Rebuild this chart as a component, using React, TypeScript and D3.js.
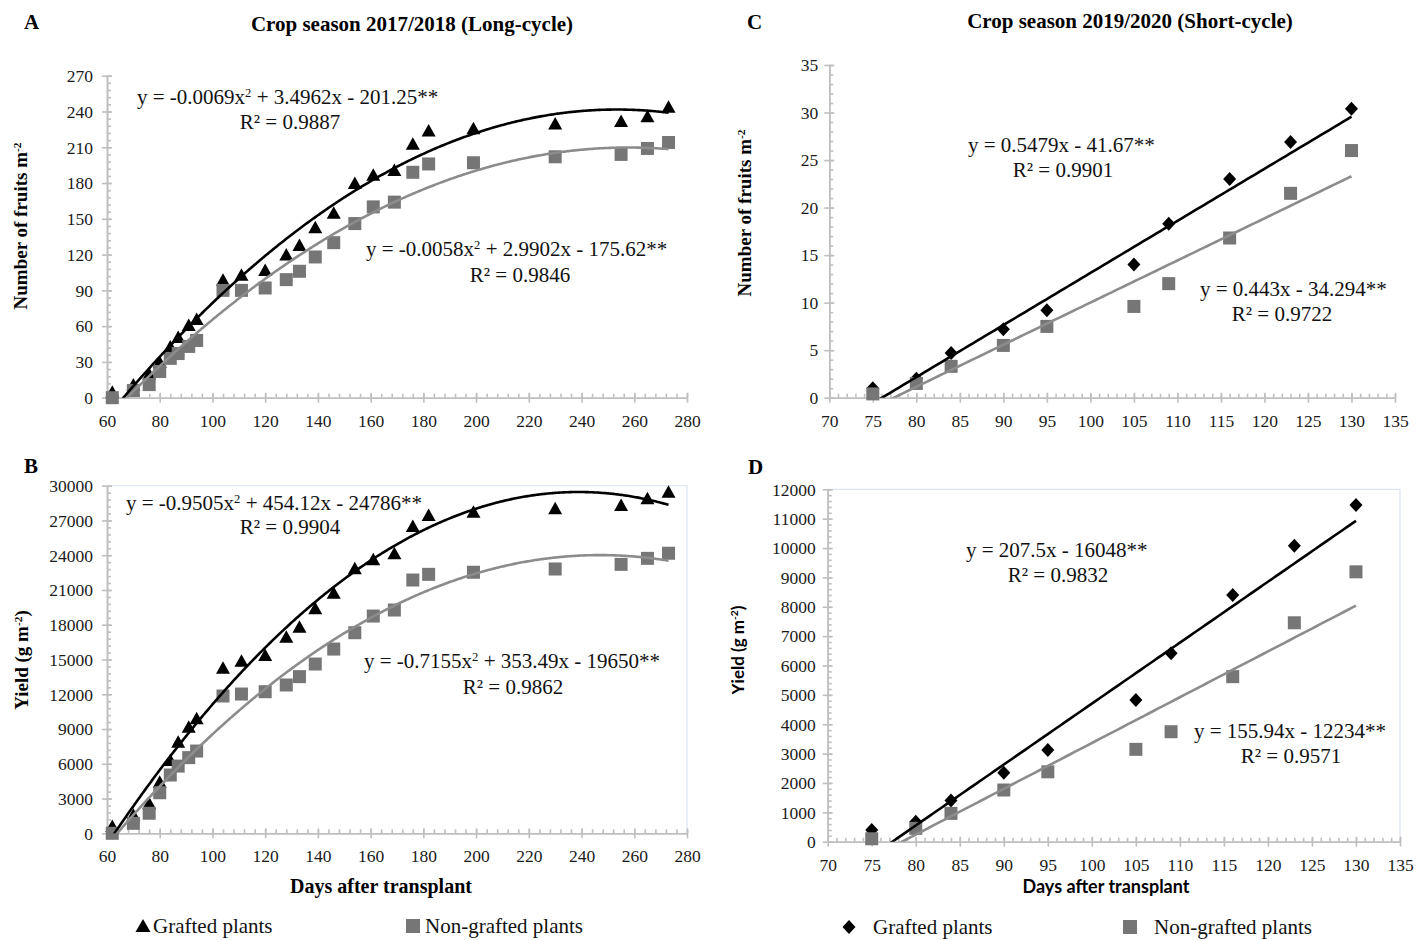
import React, { useEffect, useRef } from 'react'
import * as d3 from 'd3'

// long cycle (2017/2018)
const longDays = [62, 70, 76, 80, 84, 87, 91, 94, 104, 111, 120, 128, 133, 139, 146, 154, 161, 169, 176, 182, 199, 230, 255, 265, 273]
const fruitsGraftedLong = [5, 11, 20, 30, 43, 51, 61, 66, 99, 103, 107, 120, 128, 143, 155, 180, 187, 191, 213, 224, 226, 230, 232, 236, 244]
const fruitsNonGraftedLong = [0, 6, 11, 22, 33, 37, 43, 48, 90, 90, 92, 99, 106, 118, 130, 146, 160, 164, 189, 196, 197, 202, 204, 209, 214]
const yieldGraftedLong = [630, 1600, 2600, 4450, 6330, 7900, 9200, 9920, 14290, 14900, 15390, 16970, 17830, 19420, 20770, 22870, 23650, 24170, 26520, 27470, 27760, 28050, 28330, 28910, 29480]
const yieldNonGraftedLong = [0, 860, 1730, 3500, 5030, 5800, 6530, 7100, 11850, 12020, 12220, 12800, 13520, 14610, 15900, 17310, 18750, 19270, 21860, 22350, 22530, 22810, 23210, 23730, 24170]

// short cycle (2019/2020)
const shortDays = [75, 80, 84, 90, 95, 105, 109, 116, 123, 130]
const fruitsGraftedShort = [1.0, 2.0, 4.7, 7.2, 9.2, 14.0, 18.3, 23.0, 26.9, 30.4]
const fruitsNonGraftedShort = [0.4, 1.5, 3.3, 5.5, 7.5, 9.6, 12.0, 16.8, 21.5, 26.0]
const yieldGraftedShort = [400, 680, 1400, 2350, 3120, 4825, 6415, 8400, 10080, 11465]
const yieldNonGraftedShort = [100, 455, 965, 1760, 2380, 3145, 3745, 5620, 7455, 9190]

// trendline coefficients: y = a*x^2 + b*x + c
const trendA = [[-0.0069, 3.4962, -201.25], [-0.0058, 2.9902, -175.62]]
const trendB = [[-0.9505, 454.12, -24786], [-0.7155, 353.49, -19650]]
const trendC = [[0, 0.5479, -41.67], [0, 0.443, -34.294]]
const trendD = [[0, 207.5, -16048], [0, 155.94, -12234]]

const eqA = ['y = -0.0069x^2 + 3.4962x - 201.25**', 'R² = 0.9887', 'y = -0.0058x^2 + 2.9902x - 175.62**', 'R² = 0.9846']
const eqB = ['y = -0.9505x^2 + 454.12x - 24786**', 'R² = 0.9904', 'y = -0.7155x^2 + 353.49x - 19650**', 'R² = 0.9862']
const eqC = ['y = 0.5479x - 41.67**', 'R² = 0.9901', 'y = 0.443x - 34.294**', 'R² = 0.9722']
const eqD = ['y = 207.5x - 16048**', 'R² = 0.9832', 'y = 155.94x - 12234**', 'R² = 0.9571']

const titles = ['Crop season 2017/2018 (Long-cycle)', 'Crop season 2019/2020 (Short-cycle)']
const legendLabels = ['Grafted plants', 'Non-grafted plants']

const SERIF = '"Liberation Serif", "Times New Roman", serif'
const SANS = 'Lato, "Open Sans", sans-serif'
const GRAY_MARK = '#767676'
const GRAY_LINE = '#8c8c8c'
const AXIS = '#bfbfbf'

// writes "abc^2 def" with a raised 2
function richText(sel: any, s: string) {
  const parts = s.split(/\^(-?\d)/)
  parts.forEach((p, i) => {
    if (i % 2 === 1) {
      sel.append('tspan').attr('font-size', '0.6em').attr('dy', '-0.55em').text(p)
    } else if (p) {
      sel.append('tspan').attr('dy', i > 0 ? '0.33em' : null).text(p)
    }
  })
}

function drawPanel(svg: any, p: any) {
  const x = d3.scaleLinear().domain(p.xDomain).range(p.xRange)
  const y = d3.scaleLinear().domain(p.yDomain).range(p.yRange)
  const g = svg.append('g')
  const [x0, x1] = p.xRange
  const [y0, y1] = p.yRange

  if (p.border) {
    g.append('path').attr('d', `M${x0},${y1}H${x1}V${y0}`)
      .attr('fill', 'none').attr('stroke', '#dde6f2').attr('stroke-width', 1.3)
  }

  const xMajor = d3.range(p.xDomain[0], p.xDomain[1] + 1e-6, p.xStep)
  const xMinor = d3.range(p.xDomain[0], p.xDomain[1] + 1e-6, p.xStep / 5)
  const yMajor = d3.range(p.yDomain[0], p.yDomain[1] + 1e-6, p.yStep)
  const yMinor = d3.range(p.yDomain[0], p.yDomain[1] + 1e-6, p.yStep / 5)

  const xAxisMinor = g.append('g').attr('transform', `translate(0,${y0})`)
    .call(d3.axisBottom(x).tickValues(xMinor).tickSize(-4).tickSizeOuter(0).tickFormat(() => ''))
  const xAxis = g.append('g').attr('transform', `translate(0,${y0})`)
    .call(d3.axisBottom(x).tickValues(xMajor).tickSize(5).tickSizeOuter(0).tickFormat(d3.format('d')))
  xAxis.selectAll('.tick line').attr('y1', -5).attr('y2', 5)
  xAxis.selectAll('text').attr('y', 23).attr('dy', '0.35em')
    .attr('font-family', SERIF).attr('font-size', 17.5).attr('fill', '#1a1a1a')

  const yAxisMinor = g.append('g').attr('transform', `translate(${x0},0)`)
    .call(d3.axisLeft(y).tickValues(yMinor).tickSize(-4).tickSizeOuter(0).tickFormat(() => ''))
  const yAxis = g.append('g').attr('transform', `translate(${x0},0)`)
    .call(d3.axisLeft(y).tickValues(yMajor).tickSize(5).tickSizeOuter(0).tickFormat(d3.format('d')))
  yAxis.selectAll('.tick line').attr('x1', -5).attr('x2', 5)
  yAxis.selectAll('text').attr('x', -p.yLabelGap).attr('dy', '0.33em')
    .attr('font-family', SERIF).attr('font-size', 17.5).attr('fill', '#1a1a1a')

  ;[xAxisMinor, xAxis, yAxisMinor, yAxis].forEach(a => {
    a.selectAll('path, line').attr('stroke', AXIS).attr('stroke-width', 1.6)
  })

  // markers
  const graftedPts = p.days.map((d: number, i: number) => [d, p.grafted[i]])
  const nonPts = p.days.map((d: number, i: number) => [d, p.nonGrafted[i]])
  const markerPath = p.marker === 'triangle' ? 'M0,-6.5L7,6L-7,6Z' : 'M0,-7L6.5,0L0,7L-6.5,0Z'
  g.append('g').selectAll('path').data(graftedPts).enter().append('path')
    .attr('d', markerPath)
    .attr('transform', (d: number[]) => `translate(${x(d[0])},${y(d[1])})`)
    .attr('fill', '#000')
  g.append('g').selectAll('rect').data(nonPts).enter().append('rect')
    .attr('x', (d: number[]) => x(d[0]) - 6.5).attr('y', (d: number[]) => y(d[1]) - 6.5)
    .attr('width', 13).attr('height', 13).attr('fill', GRAY_MARK)

  // trendlines, clipped to the plot area
  const clipId = 'clip' + p.letter
  svg.append('clipPath').attr('id', clipId).append('rect')
    .attr('x', x0).attr('y', y1).attr('width', x1 - x0).attr('height', y0 - y1)
  const first = p.days[0]
  const last = p.days[p.days.length - 1]
  const xs = d3.range(first, last + 0.01, 0.5)
  p.trend.forEach((c: number[], k: number) => {
    const fy = (v: number) => c[0] * v * v + c[1] * v + c[2]
    g.append('path')
      .attr('clip-path', `url(#${clipId})`)
      .attr('d', d3.line<number>().x(v => x(v)).y(v => y(fy(v)))(xs))
      .attr('fill', 'none')
      .attr('stroke', k === 0 ? '#000' : GRAY_LINE)
      .attr('stroke-width', 2.6)
  })

  // equations
  p.eqPos.forEach((pos: number[], i: number) => {
    const t = g.append('text').attr('x', pos[0]).attr('y', pos[1])
      .attr('font-family', SERIF).attr('font-size', 21).attr('fill', '#111')
      .attr('text-anchor', i % 2 === 0 ? 'start' : 'middle')
    richText(t, p.eq[i])
  })

  // letter and title
  svg.append('text').attr('x', p.letterPos[0]).attr('y', p.letterPos[1])
    .attr('font-family', SERIF).attr('font-weight', 'bold').attr('font-size', 21).text(p.letter)
  if (p.title) {
    svg.append('text').attr('x', p.titlePos[0]).attr('y', p.titlePos[1]).attr('text-anchor', 'middle')
      .attr('font-family', SERIF).attr('font-weight', 'bold').attr('font-size', 21).text(p.title)
  }

  // axis titles
  const yt = svg.append('text')
    .attr('transform', `translate(${p.yTitlePos[0]},${p.yTitlePos[1]}) rotate(-90)`)
    .attr('text-anchor', 'middle').attr('font-weight', 'bold')
    .attr('font-family', p.sansTitles ? SANS : SERIF).attr('font-size', p.sansTitles ? 17 : 19)
  richText(yt, p.yTitle)
  if (p.xTitle) {
    svg.append('text').attr('x', p.xTitlePos[0]).attr('y', p.xTitlePos[1]).attr('text-anchor', 'middle')
      .attr('font-weight', 'bold').attr('font-family', p.sansTitles ? SANS : SERIF)
      .attr('font-size', p.sansTitles ? 18 : 20).text(p.xTitle)
  }
}

function drawLegend(svg: any, cx: number[], cy: number, textX: number[], marker: string) {
  const g = svg.append('g')
  const mPath = marker === 'triangle' ? 'M0,-7L7.5,6L-7.5,6Z' : 'M0,-7L6.5,0L0,7L-6.5,0Z'
  g.append('path').attr('d', mPath).attr('transform', `translate(${cx[0]},${cy})`).attr('fill', '#000')
  g.append('rect').attr('x', cx[1] - 7).attr('y', cy - 7).attr('width', 14).attr('height', 14).attr('fill', GRAY_MARK)
  legendLabels.forEach((l, i) => {
    g.append('text').attr('x', textX[i]).attr('y', cy + 7)
      .attr('font-family', SERIF).attr('font-size', 21).attr('fill', '#111').text(l)
  })
}

export default function App() {
  const ref = useRef<SVGSVGElement>(null)
  useEffect(() => {
    const svg = d3.select(ref.current)
    svg.selectAll('*').remove()

    drawPanel(svg, {
      letter: 'A', letterPos: [24, 29], title: titles[0], titlePos: [412, 31],
      xDomain: [60, 280], xRange: [107, 687], xStep: 20,
      yDomain: [0, 270], yRange: [397.7, 75.7], yStep: 30, yLabelGap: 14,
      days: longDays, grafted: fruitsGraftedLong, nonGrafted: fruitsNonGraftedLong,
      marker: 'triangle', trend: trendA, eq: eqA,
      eqPos: [[137, 104], [290, 129], [366, 256], [520, 282]],
      yTitle: 'Number of fruits  m^-2', yTitlePos: [27, 226]
    })
    drawPanel(svg, {
      letter: 'B', letterPos: [24, 473],
      xDomain: [60, 280], xRange: [107, 687], xStep: 20,
      yDomain: [0, 30000], yRange: [833.3, 485.7], yStep: 3000, yLabelGap: 14,
      days: longDays, grafted: yieldGraftedLong, nonGrafted: yieldNonGraftedLong,
      marker: 'triangle', trend: trendB, eq: eqB, border: true,
      eqPos: [[126, 510], [290, 534], [364, 668], [513, 694]],
      yTitle: 'Yield (g m^-2)', yTitlePos: [28, 660],
      xTitle: 'Days after transplant', xTitlePos: [381, 893]
    })
    drawPanel(svg, {
      letter: 'C', letterPos: [747, 29], title: titles[1], titlePos: [1130, 28],
      xDomain: [70, 135], xRange: [829.3, 1395], xStep: 5,
      yDomain: [0, 35], yRange: [397.7, 65], yStep: 5, yLabelGap: 11,
      days: shortDays, grafted: fruitsGraftedShort, nonGrafted: fruitsNonGraftedShort,
      marker: 'diamond', trend: trendC, eq: eqC,
      eqPos: [[968, 152], [1063, 177], [1200, 296], [1282, 321]],
      yTitle: 'Number of fruits  m^-2', yTitlePos: [751, 213]
    })
    drawPanel(svg, {
      letter: 'D', letterPos: [748, 474],
      xDomain: [70, 135], xRange: [827.7, 1400], xStep: 5,
      yDomain: [0, 12000], yRange: [841.7, 489.3], yStep: 1000, yLabelGap: 12,
      days: shortDays, grafted: yieldGraftedShort, nonGrafted: yieldNonGraftedShort,
      marker: 'diamond', trend: trendD, eq: eqD, border: true, sansTitles: true,
      eqPos: [[966, 557], [1058, 582], [1194, 738], [1291, 763]],
      yTitle: 'Yield (g m^-2)', yTitlePos: [744, 650],
      xTitle: 'Days after transplant', xTitlePos: [1106, 893]
    })

    drawLegend(svg, [143, 413], 926, [153, 425], 'triangle')
    drawLegend(svg, [849, 1130], 927, [873, 1154], 'diamond')
  }, [])

  return (
    <svg ref={ref} width={1416} height={940} style={{ position: 'absolute', left: 0, top: 0, background: '#fff' }} />
  )
}
